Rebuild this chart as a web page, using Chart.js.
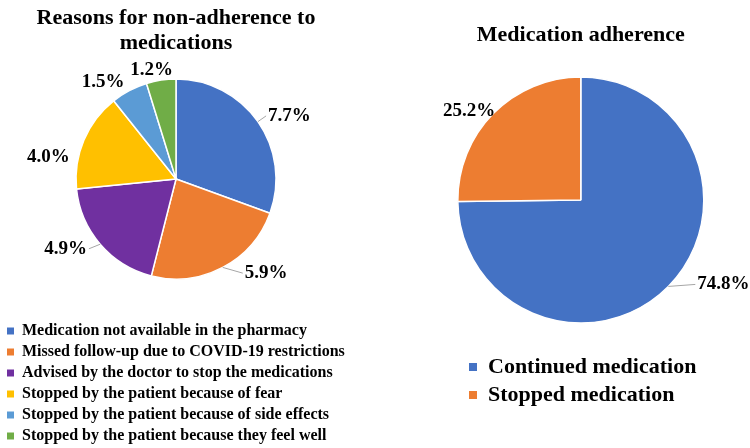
<!DOCTYPE html>
<html>
<head>
<meta charset="utf-8">
<script src="https://cdn.jsdelivr.net/npm/chart.js@4.4.1/dist/chart.umd.min.js"></script>
<style>
  html, body { margin: 0; padding: 0; background: #fff; overflow: hidden; }
  body { width: 750px; height: 448px; position: relative; }
  canvas { position: absolute; }
  #reasons { left: 0; top: 0; }
  #adherence { left: 380px; top: 0; }
</style>
</head>
<body>
<canvas id="reasons" width="360" height="454"></canvas>
<canvas id="adherence" width="370" height="416"></canvas>
<script>
const reasonLabels = [
  "Medication not available in the pharmacy",
  "Missed follow-up due to COVID-19 restrictions",
  "Advised by the doctor to stop the medications",
  "Stopped by the patient because of fear",
  "Stopped by the patient because of side effects",
  "Stopped by the patient because they feel well",
];
const reasonValues = [7.7, 5.9, 4.9, 4.0, 1.5, 1.2];
const reasonColors = ["#4472C4", "#ED7D31", "#7030A0", "#FFC000", "#5B9BD5", "#70AD47"];

const adherenceLabels = ["Continued medication", "Stopped medication"];
const adherenceValues = [74.8, 25.2];
const adherenceColors = ["#4472C4", "#ED7D31"];

const SERIF = "'Liberation Serif', 'Times New Roman', serif";

Chart.defaults.color = "#000000";
Chart.defaults.font.family = SERIF;
Chart.defaults.font.weight = "bold";

// percent labels outside the slices, with optional leader lines
// place[i] = [radial gap, horizontal shift, vertical shift, leader line]
const pieLabels = {
  id: "pieLabels",
  afterDatasetsDraw(chart, args, opts) {
    const ctx = chart.ctx;
    const meta = chart.getDatasetMeta(0);
    const values = chart.data.datasets[0].data;
    ctx.save();
    ctx.font = "bold 19px " + SERIF;
    ctx.fillStyle = "#000";
    ctx.textBaseline = "middle";
    meta.data.forEach((arc, i) => {
      const { x, y, startAngle, endAngle, outerRadius } =
        arc.getProps(["x", "y", "startAngle", "endAngle", "outerRadius"], true);
      const mid = (startAngle + endAngle) / 2;
      const cos = Math.cos(mid);
      const sin = Math.sin(mid);
      const p = opts.place[i];
      const ax = x + cos * (outerRadius + p[0]);
      const ay = y + sin * (outerRadius + p[0]);
      const side = cos >= 0 ? 1 : -1;
      const tx = ax + side * p[1];
      const ty = ay + p[2];
      if (p[3]) {
        ctx.strokeStyle = "#a6a6a6";
        ctx.lineWidth = 1;
        ctx.beginPath();
        ctx.moveTo(x + cos * outerRadius, y + sin * outerRadius);
        ctx.lineTo(tx - side * 2, ty);
        ctx.stroke();
      }
      ctx.textAlign = side > 0 ? "left" : "right";
      ctx.fillText(values[i].toFixed(1) + "%", tx, ty);
    });
    ctx.restore();
  },
};

function plainBoxes(chart) {
  const items = Chart.overrides.pie.plugins.legend.labels.generateLabels(chart);
  items.forEach((it) => { it.lineWidth = 0; it.strokeStyle = "transparent"; });
  return items;
}

new Chart(document.getElementById("reasons"), {
  type: "pie",
  data: {
    labels: reasonLabels,
    datasets: [
      {
        data: reasonValues,
        backgroundColor: reasonColors,
        borderColor: "#ffffff",
        borderWidth: 1.5,
        radius: 100,
        hoverOffset: 0,
        clip: false,
      },
    ],
  },
  options: {
    responsive: false,
    animation: false,
    layout: {
      padding: { left: 2, right: 10, top: 0, bottom: 0 },
    },
    plugins: {
      title: {
        display: true,
        text: ["Reasons for non-adherence to", "medications"],
        font: { size: 22, weight: "bold", lineHeight: 1.136 },
        padding: { top: 5.5, bottom: 0.5 },
      },
      legend: {
        position: "bottom",
        align: "start",
        title: {
          display: true,
          text: " ",
          font: { size: 10 },
          padding: 2,
        },
        labels: {
          boxWidth: 7,
          boxHeight: 7,
          padding: 5,
          font: { size: 16, weight: "bold" },
          generateLabels: plainBoxes,
        },
      },
      tooltip: { enabled: false },
      pieLabels: {
        place: [
          [10, 2, 0, true],
          [6.5, 19, 0, true],
          [7, 8, 0, true],
          [0, 14, 17, false],
          [10, 0, 0, false],
          [10, -13.5, 0, false],
        ],
      },
    },
  },
  plugins: [pieLabels],
});

new Chart(document.getElementById("adherence"), {
  type: "pie",
  data: {
    labels: adherenceLabels,
    datasets: [
      {
        data: adherenceValues,
        backgroundColor: adherenceColors,
        borderColor: "#ffffff",
        borderWidth: 1.5,
        radius: 123,
        hoverOffset: 0,
        clip: false,
      },
    ],
  },
  options: {
    responsive: false,
    animation: false,
    layout: {
      padding: { left: 83, right: 51.4, top: 0, bottom: 0 },
    },
    plugins: {
      title: {
        display: true,
        text: "Medication adherence",
        font: { size: 22, weight: "bold", lineHeight: 1.2 },
        padding: { top: 22.3, bottom: 1.3 },
      },
      legend: {
        position: "bottom",
        align: "start",
        labels: {
          boxWidth: 8,
          boxHeight: 8,
          padding: 6,
          font: { size: 22, weight: "bold" },
          generateLabels: plainBoxes,
        },
      },
      tooltip: { enabled: false },
      pieLabels: {
        place: [
          [0, 29, -2, true],
          [0, -2, -2, false],
        ],
      },
    },
  },
  plugins: [pieLabels],
});
</script>
</body>
</html>
